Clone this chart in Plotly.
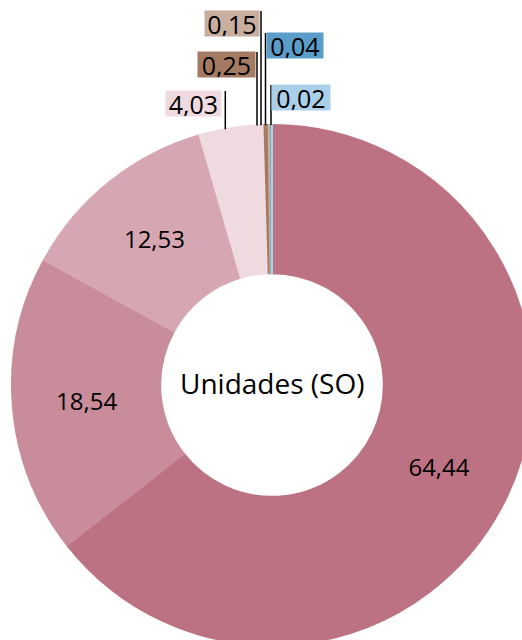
import math
import plotly.graph_objects as go

# ---- data ----
values = [64.44, 18.54, 12.53, 4.03, 0.25, 0.15, 0.04, 0.02]
colors = ["#BC7283", "#C98C9A", "#D6A7B2", "#EFDAE0", "#A57A62", "#C8AE9F", "#5A9DC8", "#AACFE8"]
center_label = "Unidades (SO)"
inside_min = 10  # slices >= this get their label inside

# ---- layout constants (pixels) ----
W, H = 544, 660
CX, CY, R = 272, 385, 260
HOLE = 0.43
FONT = "Open Sans, Lato, sans-serif"

# outside label boxes for the small slices: (left, right, top, bottom), leader-line x
out_boxes = {
    3: ((166, 221, 91, 116), 225.3),
    4: ((198, 255, 52, 77), 257.0),
    5: ((205, 259, 11, 36), 261.0),
    6: ((267, 323, 33, 58), 265.5),
    7: ((272, 330, 85, 110), 271.0),
}


def px(x):
    return x / W


def py(y):
    return 1 - y / H


def fmt(v):
    return f"{v:.2f}".replace(".", ",")


textpos = ["inside" if v >= inside_min else "none" for v in values]

fig = go.Figure(
    go.Pie(
        values=values,
        marker=dict(colors=colors, line=dict(width=2, color=colors)),
        sort=False,
        direction="clockwise",
        rotation=0,
        hole=HOLE,
        textposition=textpos,
        texttemplate="%{value:.2f}",
        insidetextorientation="horizontal",
        textfont=dict(family=FONT, size=24, color="black"),
        hoverinfo="none",
        domain=dict(x=[px(CX - R), px(CX + R)], y=[py(CY + R), py(CY - R)]),
    )
)

annotations = [
    dict(
        text=center_label, x=px(CX), y=py(CY - 2), xref="paper", yref="paper",
        showarrow=False, font=dict(family=FONT, size=28, color="black"),
        xanchor="center", yanchor="middle",
    )
]
shapes = []
for i, ((l, r, t, b), lx) in out_boxes.items():
    annotations.append(
        dict(
            text=fmt(values[i]), x=px((l + r) / 2), y=py((t + b) / 2),
            xref="paper", yref="paper", showarrow=False,
            xanchor="center", yanchor="middle",
            width=r - l, height=b - t, bgcolor=colors[i], borderpad=0,
            font=dict(family=FONT, size=25, color="black"),
        )
    )
    ring_y = CY - math.sqrt(R * R - (lx - CX) ** 2)
    shapes.append(
        dict(
            type="line", xref="paper", yref="paper",
            x0=px(lx), x1=px(lx), y0=py(t), y1=py(ring_y),
            line=dict(color="black", width=1.5),
        )
    )

fig.update_layout(
    width=W, height=H,
    margin=dict(l=0, r=0, t=0, b=0),
    paper_bgcolor="white", plot_bgcolor="white",
    showlegend=False,
    separators=",.",
    annotations=annotations,
    shapes=shapes,
    font=dict(family=FONT),
)

fig.write_html(
    "out.html",
    config={"displayModeBar": False},
    post_script="document.body.style.margin='0';document.body.style.overflow='hidden';",
)
